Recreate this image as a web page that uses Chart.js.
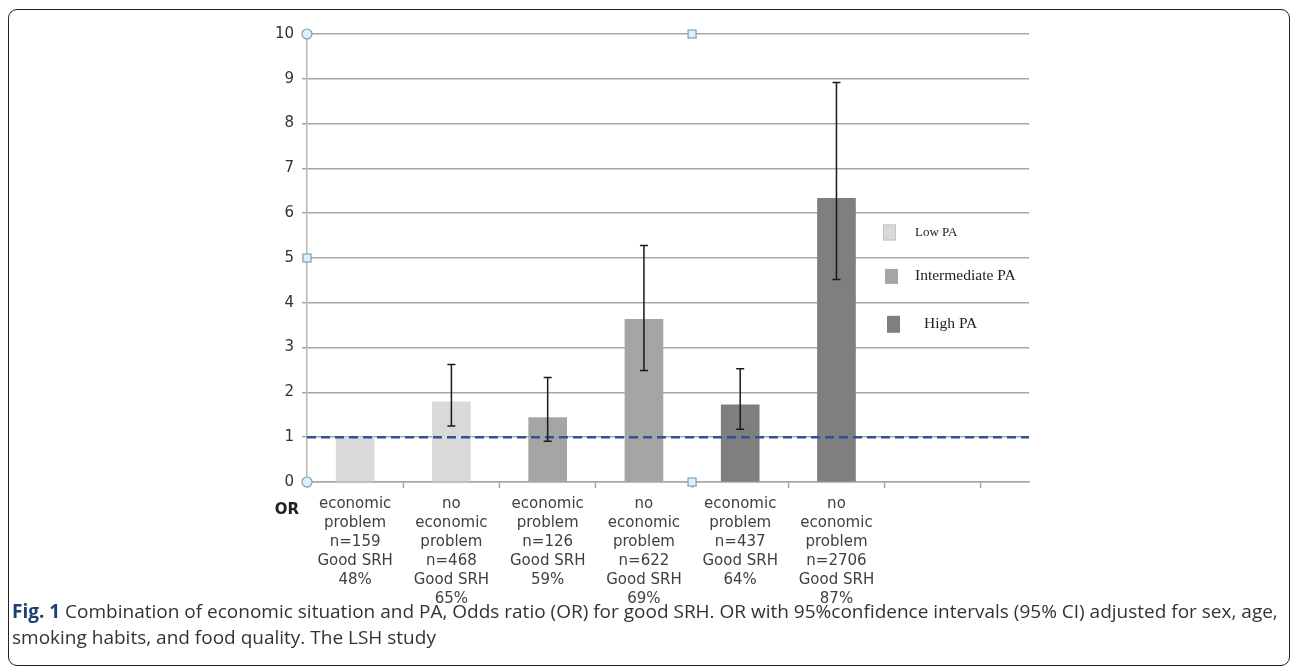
<!DOCTYPE html>
<html><head><meta charset="utf-8">
<script src="https://cdn.jsdelivr.net/npm/chart.js@4.4.1/dist/chart.umd.min.js"></script>
<style>
html,body{margin:0;padding:0;background:#fff;}
body{width:1292px;height:672px;position:relative;overflow:hidden;}
#frame{position:absolute;left:8px;top:9px;width:1282px;height:657px;border:1.5px solid #222;border-radius:9px;box-sizing:border-box;}
#wrap{position:absolute;left:0;top:0;width:1292px;height:620px;}
#cap{position:absolute;left:12px;top:598px;width:1278px;font-family:'Open Sans',sans-serif;font-size:19px;line-height:26px;color:#333;white-space:nowrap;}
#cap b{color:#1d3f73;}
</style></head>
<body>
<div id="frame"></div>
<div id="wrap"><canvas id="c"></canvas></div>
<div id="cap"><b>Fig. 1</b> Combination of economic situation and PA, Odds ratio (OR) for good SRH. OR with 95%confidence intervals (95% CI) adjusted for sex, age,<br>smoking habits, and food quality. The LSH study</div>
<script>
// ---- data ----
const categories = [
  ['economic','problem','n=159','Good SRH','48%'],
  ['no','economic','problem','n=468','Good SRH','65%'],
  ['economic','problem','n=126','Good SRH','59%'],
  ['no','economic','problem','n=622','Good SRH','69%'],
  ['economic','problem','n=437','Good SRH','64%'],
  ['no','economic','problem','n=2706','Good SRH','87%']
];
const groups = ['Low PA','Intermediate PA','High PA'];
const groupOf = [0,0,1,1,2,2];
const oddsRatio = [1.00, 1.79, 1.44, 3.63, 1.72, 6.33];
const ciLow  = [null, 1.25, 0.91, 2.49, 1.18, 4.52];
const ciHigh = [null, 2.62, 2.33, 5.28, 2.53, 8.92];
const yTicks = [0,1,2,3,4,5,6,7,8,9,10];
const refValue = 1;
const axisLabel = 'OR';

// ---- style ----
const groupColors = ['#d9d9d9','#a5a5a5','#7f7f7f'];
const xMin = -0.5, xMax = 7;
const xTickValues = [];
for (let v = xMin; v <= 6.5; v += 0.5) xTickValues.push(v);

const datasets = groups.map((g, gi) => ({
  type: 'bar',
  label: g,
  data: oddsRatio.map((v, i) => ({x: i, y: v})).filter((p, i) => groupOf[i] === gi),
  backgroundColor: groupColors[gi],
  borderWidth: 0,
  barThickness: 38,
  grouped: false,
  order: 2
}));
datasets.push({
  type: 'line',
  label: 'ref',
  data: [{x: xMin, y: refValue}, {x: xMax, y: refValue}],
  borderColor: '#2d5592',
  borderWidth: 2.5,
  borderDash: [9, 5],
  pointRadius: 0,
  order: 0
});

const errorBars = {
  id: 'errorBars',
  afterDatasetsDraw(chart) {
    const {ctx, scales: {x, y}} = chart;
    ctx.save();
    ctx.strokeStyle = '#1a1a1a';
    ctx.lineWidth = 1.5;
    oddsRatio.forEach((v, i) => {
      if (ciLow[i] == null) return;
      const px = x.getPixelForValue(i);
      const yl = y.getPixelForValue(ciLow[i]);
      const yh = y.getPixelForValue(ciHigh[i]);
      ctx.beginPath();
      ctx.moveTo(px, yl); ctx.lineTo(px, yh);
      ctx.moveTo(px - 4, yl); ctx.lineTo(px + 4, yl);
      ctx.moveTo(px - 4, yh); ctx.lineTo(px + 4, yh);
      ctx.stroke();
    });
    ctx.restore();
  }
};

const legendItems = {
  id: 'legendItems',
  afterDatasetsDraw(chart) {
    const {ctx, chartArea, scales: {y}} = chart;
    const rows = [5.57, 4.59, 3.52];
    const sqOff = [146, 144, 142];
    const txOff = [114, 114, 105];
    const sizes = [13, 15.5, 15.5];
    const sqH = [16, 15, 17];
    ctx.save();
    groups.forEach((g, gi) => {
      const cy = y.getPixelForValue(rows[gi]);
      const sx = chartArea.right - sqOff[gi];
      ctx.fillStyle = groupColors[gi];
      ctx.fillRect(sx, cy - sqH[gi] / 2, 13, sqH[gi]);
      if (gi === 0) {
        ctx.strokeStyle = '#c4c4c4'; ctx.lineWidth = 1;
        ctx.strokeRect(sx + 0.5, cy - sqH[gi] / 2 + 0.5, 12, sqH[gi] - 1);
      }
      ctx.fillStyle = '#222';
      ctx.font = sizes[gi] + 'px "Liberation Serif"';
      ctx.textAlign = 'left';
      ctx.textBaseline = 'middle';
      ctx.fillText(g, chartArea.right - txOff[gi], cy);
    });
    ctx.restore();
  }
};

const extras = {
  id: 'extras',
  afterDraw(chart) {
    const {ctx, scales: {x, y}} = chart;
    ctx.save();
    ctx.font = 'bold 15px "DejaVu Sans"';
    ctx.fillStyle = '#222';
    ctx.textAlign = 'right';
    ctx.textBaseline = 'middle';
    ctx.fillText(axisLabel, x.left - 8, x.top + 28);
    // selection handles
    const circ = [[xMin, 10], [xMin, 0]];
    const sq = [[3.5, 10], [xMin, 5], [3.5, 0]];
    ctx.lineWidth = 1.2;
    ctx.strokeStyle = '#7aa0bd';
    ctx.fillStyle = '#dcf2f8';
    circ.forEach(([a, b]) => {
      ctx.beginPath();
      ctx.arc(x.getPixelForValue(a), y.getPixelForValue(b), 5, 0, Math.PI * 2);
      ctx.fill(); ctx.stroke();
    });
    sq.forEach(([a, b]) => {
      const px = x.getPixelForValue(a), py = y.getPixelForValue(b);
      ctx.fillRect(px - 4, py - 4, 8, 8);
      ctx.strokeRect(px - 4, py - 4, 8, 8);
    });
    ctx.restore();
  }
};

new Chart(document.getElementById('c'), {
  data: {datasets},
  options: {
    responsive: true,
    maintainAspectRatio: false,
    animation: false,
    layout: {padding: {top: 34, right: 263, bottom: 0, left: 0}},
    plugins: {legend: {display: false}, tooltip: {enabled: false}},
    scales: {
      x: {
        type: 'linear',
        offset: false,
        min: xMin, max: xMax,
        position: 'bottom',
        afterBuildTicks(scale) { scale.ticks = xTickValues.map(v => ({value: v})); },
        afterFit(scale) { scale.height = 138; },
        ticks: {
          autoSkip: false, maxRotation: 0, minRotation: 0,
          padding: 7,
          color: '#404040',
          font: {family: '"DejaVu Sans"', size: 15, lineHeight: 1.267},
          callback: (v) => (Number.isInteger(v) && categories[v]) ? categories[v] : ''
        },
        grid: {
          offset: false,
          drawOnChartArea: false, drawTicks: true, tickLength: 6, tickWidth: 1.5,
          tickColor: (c) => (c.tick && Number.isInteger(c.tick.value)) ? 'rgba(0,0,0,0)' : '#a6a6a6'
        },
        border: {color: '#a6a6a6', width: 1.5}
      },
      y: {
        min: 0, max: 10,
        afterBuildTicks(scale) { scale.ticks = yTicks.map(v => ({value: v})); },
        afterFit(scale) { scale.width = 307; },
        ticks: {color: '#333', padding: 8, font: {family: '"DejaVu Sans"', size: 15}},
        grid: {color: '#a6a6a6', lineWidth: 1.5, tickLength: 5, tickColor: '#a6a6a6'},
        border: {color: '#b8b8b8', width: 1.5}
      }
    }
  },
  plugins: [errorBars, legendItems, extras]
});
</script>
</body></html>
